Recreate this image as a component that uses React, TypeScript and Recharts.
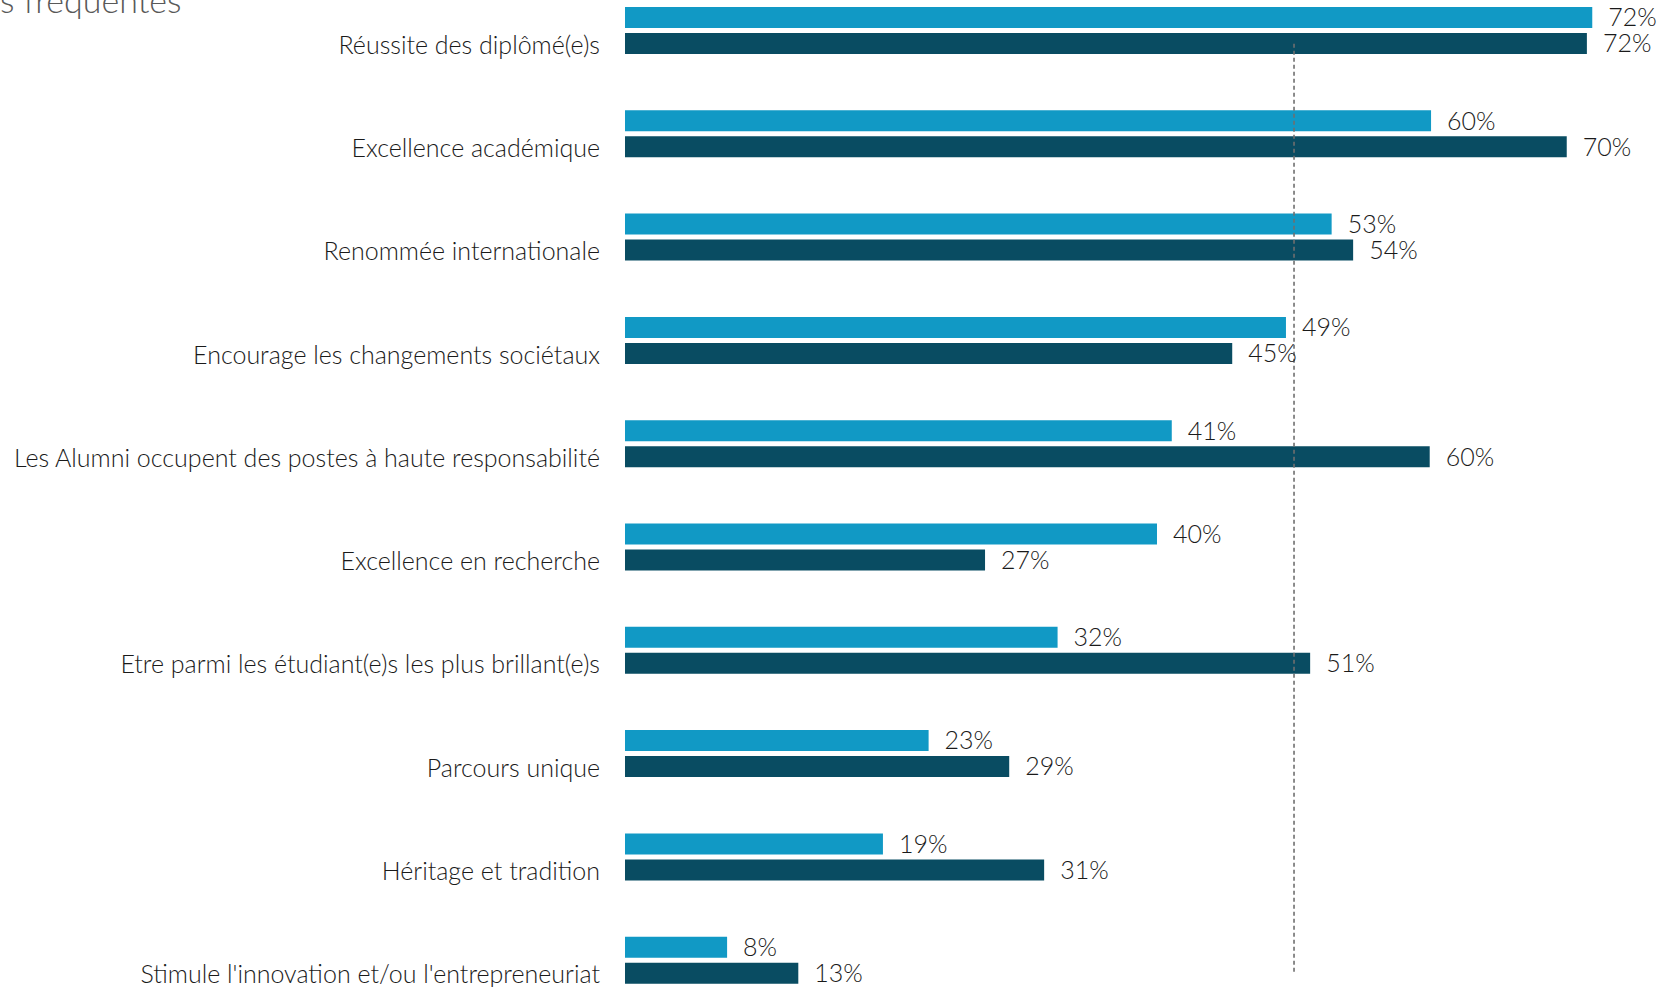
import React from 'react';
import { BarChart, Bar, XAxis, YAxis, LabelList, ReferenceLine } from 'recharts';

// Kategorien (von oben nach unten)
const categories = [
  'Réussite des diplômé(e)s',
  'Excellence académique',
  'Renommée internationale',
  'Encourage les changements sociétaux',
  'Les Alumni occupent des postes à haute responsabilité',
  'Excellence en recherche',
  'Etre parmi les étudiant(e)s les plus brillant(e)s',
  'Parcours unique',
  'Héritage et tradition',
  "Stimule l'innovation et/ou l'entrepreneuriat",
];

// Werte in Prozent (hellblau = obere Balken, dunkel = untere Balken)
const lightValues = [72, 60, 52.6, 49.2, 40.7, 39.6, 32.2, 22.6, 19.2, 7.6];
const darkValues = [71.6, 70.1, 54.2, 45.2, 59.9, 26.8, 51, 28.6, 31.2, 12.9];

// Gestrichelte Referenzlinie
const referenceValue = 49.8;

const LIGHT = '#1199c5';
const DARK = '#094c62';
const TEXT = '#1a1a1a';
const FONT = 'Lato, "Open Sans", sans-serif';

const data = categories.map((name, i) => ({
  name,
  light: lightValues[i],
  dark: darkValues[i],
}));

const pct = (v: any) => `${Math.round(Number(v))}%`;

// Beschriftung der Kategorie, auf Höhe des dunklen Balkens
const CategoryTick = (props: any) => {
  const { x, y, payload } = props;
  return (
    <text
      x={x}
      y={y + 13}
      textAnchor="end"
      dominantBaseline="central"
      fontFamily={FONT}
      fontWeight={300}
      fontSize={25}
      fill={TEXT}
    >
      {payload.value}
    </text>
  );
};

// Linie von Mitte des ersten bis Mitte des letzten dunklen Balkens
const DashedLine = (props: any) => {
  const { x1, y1, x2, y2 } = props;
  return (
    <line
      x1={x1}
      x2={x2}
      y1={y1 + 13}
      y2={y2 + 13}
      stroke="#6f6f6f"
      strokeWidth={1.6}
      strokeDasharray="4 3"
    />
  );
};

const labelStyle = { fontFamily: FONT, fontWeight: 300, fontSize: 25, fill: TEXT };

export default function App() {
  return (
    <div
      style={{
        position: 'fixed',
        top: 0,
        left: 0,
        width: 1657,
        height: 987,
        overflow: 'hidden',
        background: '#fff',
      }}
    >
      <div
        style={{
          position: 'absolute',
          left: 0,
          top: -20,
          fontFamily: FONT,
          fontWeight: 300,
          fontSize: 34,
          color: '#595959',
          whiteSpace: 'nowrap',
          lineHeight: '40px',
        }}
      >
        s fréquentes
      </div>
      <div style={{ position: 'absolute', left: 0, top: -20.6 }}>
        <BarChart
          width={1657}
          height={1033}
          data={data}
          layout="vertical"
          margin={{ top: 0, right: 11, bottom: 0, left: 0 }}
          barSize={21}
          barGap={5}
        >
          <XAxis type="number" domain={[0, 76]} hide />
          <YAxis
            type="category"
            dataKey="name"
            width={625}
            axisLine={false}
            tickLine={false}
            tickSize={0}
            tickMargin={25}
            tick={<CategoryTick />}
            interval={0}
          />
          <Bar dataKey="light" fill={LIGHT} isAnimationActive={false}>
            <LabelList dataKey="light" position="right" offset={16} formatter={pct} style={labelStyle} />
          </Bar>
          <Bar dataKey="dark" fill={DARK} isAnimationActive={false}>
            <LabelList dataKey="dark" position="right" offset={16} formatter={pct} style={labelStyle} />
          </Bar>
          <ReferenceLine
            segment={[
              { x: referenceValue, y: categories[0] },
              { x: referenceValue, y: categories[categories.length - 1] },
            ]}
            shape={<DashedLine />}
          />
        </BarChart>
      </div>
    </div>
  );
}
